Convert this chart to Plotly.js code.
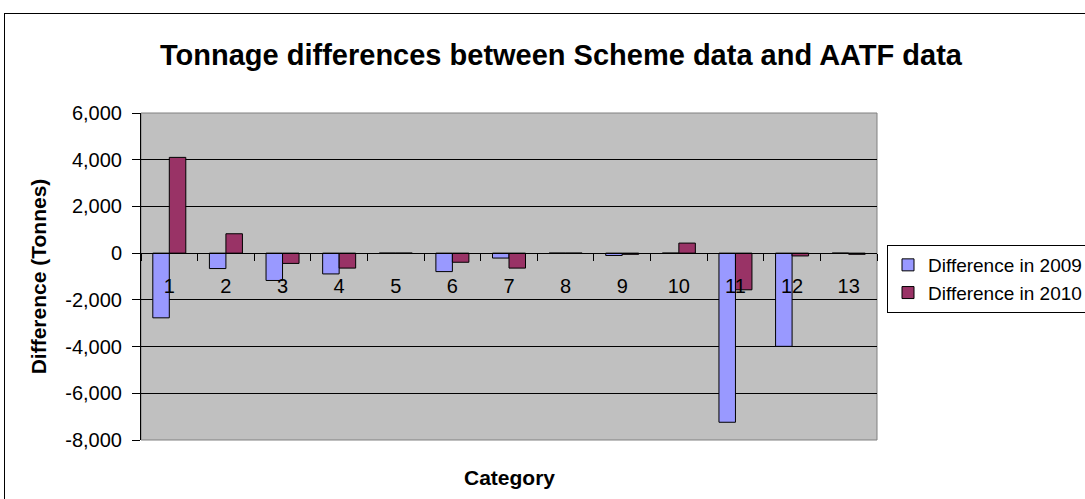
<!DOCTYPE html>
<html>
<head>
<meta charset="utf-8">
<script src="https://cdn.plot.ly/plotly-3.0.1.min.js"></script>
<style>
  html, body { margin: 0; padding: 0; overflow: hidden; background: #fff; width: 1085px; height: 499px; }
  #chart { position: absolute; left: 0; top: 0; width: 1160px; height: 499px; }
  #frame { position: absolute; left: 4px; top: 13px; width: 1200px; height: 600px;
           border: 1px solid #000; pointer-events: none; background: transparent; }
</style>
</head>
<body>
<div id="chart"></div>
<div id="frame"></div>
<script>
const categories = ["1","2","3","4","5","6","7","8","9","10","11","12","13"];
const diff2009 = [-2770, -660, -1170, -890, 0, -790, -210, 0, -100, 0, -7240, -3990, 0];
const diff2010 = [4100, 830, -440, -640, 0, -390, -640, 0, -50, 430, -1570, -120, -50];
const seriesNames = ["Difference in 2009", "Difference in 2010"];
const yTicks = [-8000, -6000, -4000, -2000, 0, 2000, 4000, 6000];
const yTickLabels = ["-8,000", "-6,000", "-4,000", "-2,000", "0", "2,000", "4,000", "6,000"];

const font = "Liberation Sans, Arial, sans-serif";

const traces = [
  { type: "bar", x: categories, y: diff2009, name: seriesNames[0],
    marker: { color: "#9999FF", line: { color: "#000000", width: 1 } } },
  { type: "bar", x: categories, y: diff2010, name: seriesNames[1],
    marker: { color: "#993366", line: { color: "#000000", width: 1 } } }
];

const layout = {
  width: 1160, height: 499,
  margin: { l: 141, r: 283, t: 113, b: 59, pad: 0 },
  paper_bgcolor: "#ffffff",
  plot_bgcolor: "#C0C0C0",
  barmode: "group",
  bargap: 0.417,
  bargroupgap: 0,
  font: { family: font, color: "#000000", size: 20 },
  title: { text: "<b>Tonnage differences between Scheme data and AATF data</b>",
           font: { family: font, size: 29, color: "#000" },
           xref: "paper", x: (561 - 141) / 736, xanchor: "center", y: 0.89, yanchor: "middle" },
  xaxis: {
    type: "category",
    anchor: "free", position: 8000 / 14000,
    showline: true, linecolor: "#000", linewidth: 1,
    ticks: "outside", tickson: "boundaries", ticklen: 7, tickcolor: "#000",
    showgrid: false, zeroline: false,
    tickfont: { family: font, size: 20 },
    ticklabelstandoff: 15
  },
  yaxis: {
    range: [-8000, 6000],
    tickmode: "array",
    tickvals: yTicks,
    ticktext: yTickLabels,
    showline: true, linecolor: "#000", linewidth: 1,
    ticks: "outside", ticklen: 8, tickcolor: "#000",
    showgrid: true, gridcolor: "#000000", gridwidth: 1,
    zeroline: true, zerolinecolor: "#000", zerolinewidth: 1,
    tickfont: { family: font, size: 20 },
    ticklabelstandoff: 6,
    title: { text: "<b>Difference (Tonnes)</b>", font: { family: font, size: 21 }, standoff: 12 }
  },
  legend: {
    x: (887 - 141) / 736, xanchor: "left", y: (440 - 245) / 327, yanchor: "top",
    bgcolor: "#ffffff", bordercolor: "#000", borderwidth: 1,
    font: { family: font, size: 19 },
    tracegroupgap: 0
  },
  annotations: [
    { text: "<b>Category</b>", xref: "paper", yref: "paper", x: 0.5, y: 0,
      xanchor: "center", yanchor: "top", yshift: -24, showarrow: false,
      font: { family: font, size: 21, color: "#000" } }
  ],
  shapes: [
    { type: "rect", xref: "paper", yref: "paper", x0: 0, x1: 1, y0: 0, y1: 1,
      line: { color: "#808080", width: 1 }, layer: "below" }
  ],
  showlegend: true
};

Plotly.newPlot("chart", traces, layout, { displayModeBar: false, staticPlot: true });
</script>
</body>
</html>
